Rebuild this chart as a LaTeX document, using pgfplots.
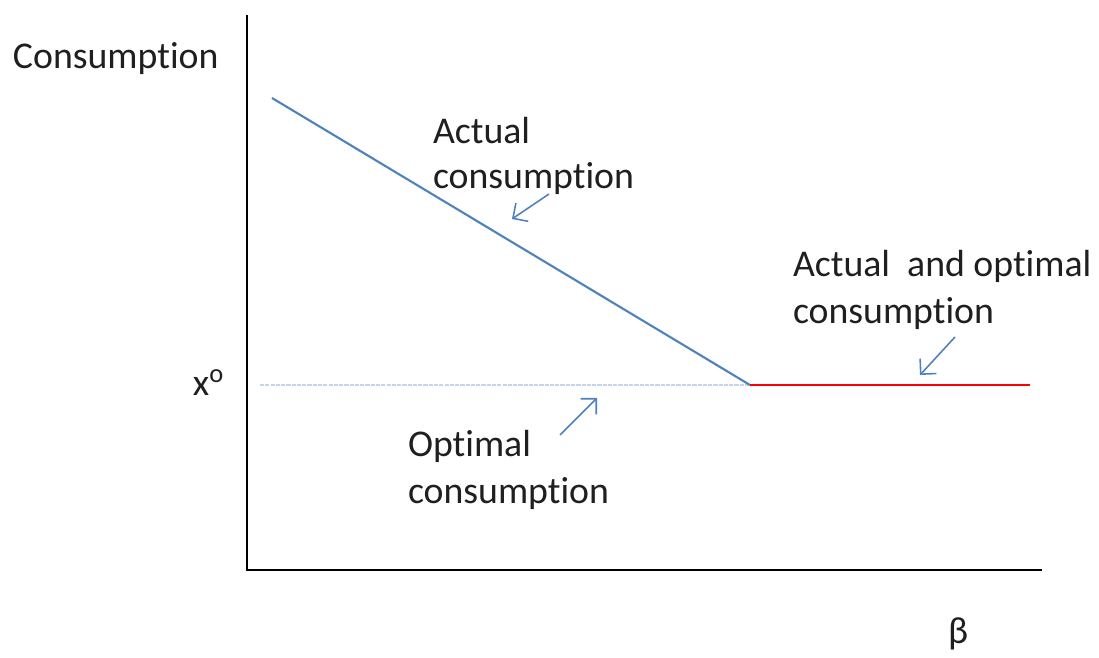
\documentclass[border=0pt]{standalone}
\usepackage{pgfplots}
\pgfplotsset{compat=1.18}
\usetikzlibrary{arrows.meta}
\usepackage{fontspec}
\setmainfont{Carlito}[RawFeature=-liga]
\definecolor{lblue}{RGB}{79,129,189}
\definecolor{dotblue}{RGB}{198,212,232}
\definecolor{lred}{RGB}{255,0,0}
\tikzset{lbl/.style={anchor=base west, inner sep=0pt, outer sep=0pt, font=\fontsize{10.75}{12}\selectfont, text=black!88}}
\begin{document}
\begin{tikzpicture}
\begin{axis}[
  scale only axis, width=109.9mm, height=65.8mm,
  xmin=0, xmax=1099, ymin=0, ymax=658,
  hide axis, clip=false,
]
% bounding box
\addplot[draw=none, forget plot] coordinates {(0,0) (1099,658)};
% axes
\addplot[black, line width=0.85pt] coordinates {(247,643) (247,88)};
\addplot[black, line width=0.85pt] coordinates {(245.8,88) (1042,88)};
% optimal (dotted)
\addplot[dotblue, line width=0.8pt, dash pattern=on 1.2pt off 0.3pt] coordinates {(260,273) (750,273)};
% actual consumption
\addplot[lblue, line width=0.6pt] coordinates {(272,560) (750,273)};
% actual and optimal
\addplot[lred, line width=0.6pt] coordinates {(750,273) (1030,273)};
% arrows
\addplot[lblue, line width=0.45pt, -{Straight Barb[length=1.1mm,width=2.2mm]}] coordinates {(549,464) (512,439)};
\addplot[lblue, line width=0.45pt, -{Straight Barb[length=1.1mm,width=2.2mm]}] coordinates {(560,223) (597,260)};
\addplot[lblue, line width=0.45pt, -{Straight Barb[length=1.1mm,width=2.2mm]}] coordinates {(955,321) (920,283)};
% labels
\node[lbl] at (axis cs:13,589) {Consumption};
\node[lbl] at (axis cs:433,514) {Actual};
\node[lbl] at (axis cs:433,469) {consumption};
\node[lbl] at (axis cs:793,381) {Actual\ \ and optimal};
\node[lbl] at (axis cs:793,334) {consumption};
\node[lbl] at (axis cs:408,201) {Optimal};
\node[lbl] at (axis cs:408,154) {consumption};
\node[lbl] at (axis cs:193,262) {x\textsuperscript{o}};
\node[lbl] at (axis cs:948,14) {β};
\end{axis}
\end{tikzpicture}
\end{document}
